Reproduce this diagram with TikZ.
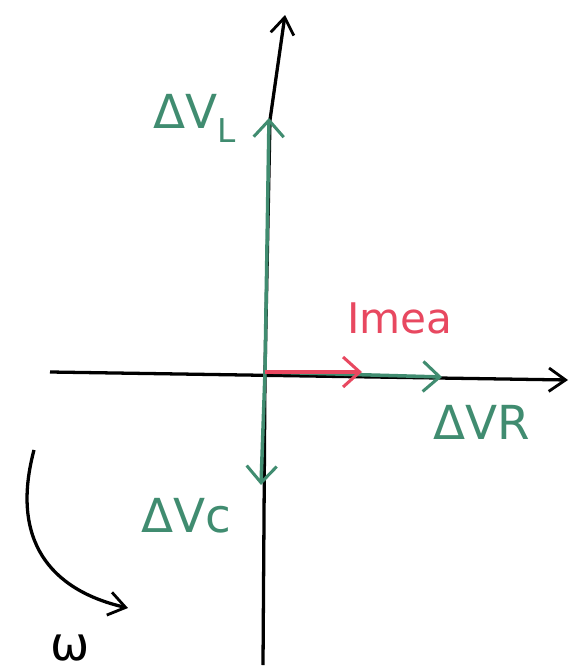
\documentclass[tikz,border=0pt]{standalone}
\usepackage{fontspec}
\setmainfont{DejaVu Sans}
\usetikzlibrary{arrows.meta}
\definecolor{phgreen}{RGB}{64,140,112}
\definecolor{phred}{RGB}{232,72,96}
\begin{document}
\begin{tikzpicture}[
  x=0.3mm, y=-0.3mm,
  axis/.style={line width=2.8pt, -{Straight Barb[length=5mm, width=7mm, line width=2.4pt]}},
  phasor/.style={line width=3pt, -{Straight Barb[length=5mm, width=9mm, line width=2.6pt]}},
  lbl/.style={font=\fontsize{40}{44}\selectfont, text=phgreen},
]
\useasboundingbox (0,0) rectangle (582,671);

% --- axes ---
\coordinate (O) at (265,372);
\coordinate (xl) at (50,372);
\coordinate (xr) at (568,380);
\coordinate (yb) at (263,665);
\coordinate (ym) at (270,120);
\coordinate (yt) at (285,15);
\draw[axis] (xl) -- (xr);
\draw[axis] (yb) -- (O) -- (ym) -- (yt);

% --- phasors ---
\coordinate (vl) at (269,118);
\coordinate (vc) at (261,485);
\coordinate (vr) at (442,377);
\coordinate (im) at (362,372);
\draw[phasor, phgreen] (O) -- (vl);
\draw[phasor, phgreen] (O) -- (vc);
\draw[phasor, phgreen] (O) -- (vr);
\draw[phasor, phred] (O) -- (im);

\node[lbl] (lvl) at (195,118) {ΔV$_{\mathrm{L}}$};
\node[lbl] (lvr) at (482,422) {ΔVR};
\node[lbl] (lvc) at (186,516) {ΔVc};
\node[font=\fontsize{36}{40}\selectfont, text=phred] (lim) at (400,318) {Imea};

% --- rotation ---
\coordinate (w0) at (34,450);
\coordinate (w1) at (128,608);
\draw[axis] (w0) .. controls (10,540) and (50,590) .. (w1);
\node[font=\fontsize{40}{44}\selectfont] (lw) at (70,648) {ω};
\end{tikzpicture}
\end{document}
